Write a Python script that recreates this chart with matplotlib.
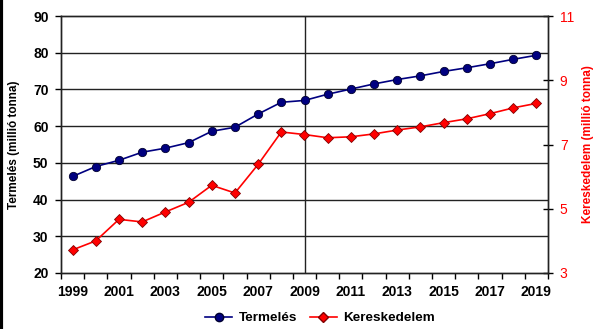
import numpy as np
import matplotlib.pyplot as plt
from matplotlib.lines import Line2D

plt.rcParams['font.family'] = ['Liberation Sans', 'DejaVu Sans']

years = list(range(1999, 2020))
termeles = [46.3, 49.0, 50.7, 52.9, 54.0, 55.5, 58.6, 59.7, 63.3, 66.5, 67.0,
            68.7, 70.1, 71.5, 72.7, 73.7, 74.9, 75.9, 77.0, 78.2, 79.3]
kereskedelem = [3.72, 4.0, 4.67, 4.59, 4.90, 5.2, 5.73, 5.49, 6.38, 7.39, 7.31,
                7.21, 7.24, 7.33, 7.45, 7.55, 7.68, 7.80, 7.96, 8.14, 8.28]
left_ticks = [20, 30, 40, 50, 60, 70, 80, 90]
right_ticks = [3, 5, 7, 9, 11]

fig = plt.figure(figsize=(5.93, 3.29), dpi=100)
ax = fig.add_axes([61 / 593, 1 - 273 / 329, 487 / 593, 257 / 329])
ax2 = ax.twinx()

x = np.arange(len(years))
ax.plot(x, termeles, color='#000080', lw=1.2, marker='o', ms=6,
        mfc='#000080', mec='#000030', mew=0.6, zorder=3)
ax2.plot(x, kereskedelem, color='#ff0000', lw=1.2, marker='D', ms=5,
         mfc='#ff0000', mec='#800000', mew=0.6, zorder=3)

ax.set_xlim(-0.5, len(years) - 0.5)
ax.set_ylim(20, 90)
ax2.set_ylim(3, 11)

# horizontal grid and the 2009 divider
for v in left_ticks[1:-1]:
    ax.axhline(v, color='#222222', lw=1.0, zorder=1)
ax.axvline(years.index(2009), color='#222222', lw=1.0, zorder=1)

ax.set_xticks(np.arange(-0.5, len(years), 1.0))
ax.set_xticklabels([])
ax.set_xticks(x[::2], minor=True)
ax.set_xticklabels([str(y) for y in years[::2]], minor=True,
                   fontsize=10, fontweight='bold')
ax.tick_params(axis='x', which='major', direction='out', length=4, width=1)
ax.tick_params(axis='x', which='minor', length=0, pad=9)

ax.set_yticks(left_ticks)
ax.set_yticklabels([str(v) for v in left_ticks], fontsize=10, fontweight='bold')
ax.tick_params(axis='y', direction='out', length=4, width=1, pad=5)
ax.set_ylabel('Termelés (millió tonna)', fontsize=8.5, fontweight='bold', labelpad=9)

ax2.set_yticks(right_ticks)
ax2.set_yticklabels([str(v) for v in right_ticks], fontsize=10, color='#ff0000')
ax2.tick_params(axis='y', direction='inout', length=7, width=1, pad=5)
ax2.set_ylabel('Kereskedelem (millió tonna)', fontsize=8.5, fontweight='bold',
               color='#ff0000', labelpad=6)

for a in (ax, ax2):
    for s in a.spines.values():
        s.set_color('#222222')
        s.set_linewidth(1.0)

handles = [
    Line2D([], [], color='#000080', lw=1.2, marker='o', ms=6, mfc='#000080', mec='#000030'),
    Line2D([], [], color='#ff0000', lw=1.2, marker='D', ms=5, mfc='#ff0000', mec='#800000'),
]
fig.legend(handles, ['Termelés', 'Kereskedelem'], loc='center',
           bbox_to_anchor=(0.54, 1 - 318 / 329), ncol=2, frameon=False,
           prop={'size': 9.7, 'weight': 'bold'}, handlelength=2.0,
           columnspacing=0.9, handletextpad=0.5)

# dark edge along the left border
fig.add_artist(Line2D([0.002, 0.002], [0, 1], color='black', lw=3,
                      transform=fig.transFigure))

fig.savefig('out.png', dpi=100)
